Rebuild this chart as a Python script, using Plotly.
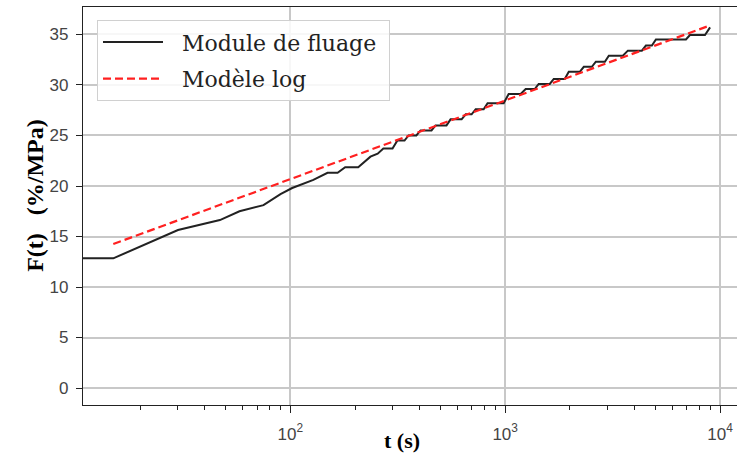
import plotly.graph_objects as go

# === Data ===
# creep compliance curve (stepped), t in s, F in %/MPa
t_fluage = [10, 15, 30, 47, 58, 75, 90, 102, 128, 149, 166, 180, 207, 236, 255, 271,
            299, 315, 340, 355, 386, 404, 454, 474, 533, 557, 627, 655, 698, 729,
            794, 828, 984, 1038, 1180, 1246, 1372, 1432, 1613, 1683, 1894, 1977,
            2225, 2323, 2532, 2642, 2911, 3037, 3530, 3724, 4328, 4519, 4819, 5030,
            6942, 7244, 8511, 8892, 8990]
F_fluage = [12.84, 12.84, 15.64, 16.63, 17.5, 18.1, 19.2, 19.8, 20.6, 21.3, 21.3, 21.85,
            21.85, 22.9, 23.2, 23.7, 23.7, 24.5, 24.5, 25.0, 25.0, 25.5, 25.5, 26.0,
            26.0, 26.6, 26.6, 27.1, 27.1, 27.6, 27.6, 28.2, 28.2, 29.1, 29.1, 29.6,
            29.6, 30.1, 30.1, 30.6, 30.6, 31.3, 31.3, 31.8, 31.8, 32.3, 32.3, 32.9,
            32.9, 33.4, 33.4, 33.9, 33.9, 34.5, 34.5, 34.95, 34.95, 35.6, 35.7]

# logarithmic model
t_model = [15, 1000, 9000]
F_model = [14.26, 28.45, 35.9]

# axes ticks
x_major = [100, 1000, 10000]
x_major_text = ['10<sup>2</sup>', '10<sup>3</sup>', '10<sup>4</sup>']
x_minor = [20, 30, 40, 50, 60, 70, 80, 90,
           200, 300, 400, 500, 600, 700, 800, 900,
           2000, 3000, 4000, 5000, 6000, 7000, 8000, 9000]
y_ticks = [0, 5, 10, 15, 20, 25, 30, 35]

fig = go.Figure()

fig.add_trace(go.Scatter(
    x=t_fluage, y=F_fluage, mode='lines',
    line=dict(color='#222222', width=2),
    name='&nbsp;&nbsp;Module de fluage&nbsp;', legendgroup='a'
))
fig.add_trace(go.Scatter(
    x=t_model, y=F_model, mode='lines',
    line=dict(color='#ff2020', width=2.2, dash='8px,4px'),
    name='&nbsp;&nbsp;Modèle log', legendgroup='b'
))

grid = '#c8c8c8'
tickfont = dict(family='Liberation Sans', size=17, color='#444444')

fig.update_layout(
    width=737, height=455,
    margin=dict(l=83, r=0, t=7, b=50),
    plot_bgcolor='white', paper_bgcolor='white',
    showlegend=True,
    legend=dict(
        x=0.0214, y=0.967, xanchor='left', yanchor='top',
        font=dict(family='DejaVu Serif', size=22, color='#222222'),
        bgcolor='rgba(255,255,255,0.85)', bordercolor='#d0d0d0', borderwidth=1,
        traceorder='grouped', tracegroupgap=5, itemwidth=60
    ),
    xaxis=dict(
        type='log', range=[1.035, 4.079], automargin=False,
        tickvals=x_major, ticktext=x_major_text,
        ticks='outside', ticklen=7, tickcolor='#222', tickwidth=1,
        tickfont=tickfont, ticklabelstandoff=6,
        showgrid=True, gridcolor=grid, gridwidth=1.5,
        showline=True, linecolor='#222', linewidth=1.2, mirror=True,
        minor=dict(tickvals=x_minor, ticks='outside', ticklen=3.5,
                   tickcolor='#222', showgrid=False),
        zeroline=False
    ),
    yaxis=dict(
        range=[-1.68, 37.72], automargin=False,
        tickvals=y_ticks,
        ticks='outside', ticklen=6, tickcolor='#222', tickwidth=1,
        tickfont=tickfont, ticklabelstandoff=4,
        showgrid=True, gridcolor=grid, gridwidth=1.5,
        showline=True, linecolor='#222', linewidth=1.2,
        zeroline=False
    ),
    annotations=[
        dict(text='<b>t (s)</b>', xref='paper', yref='paper',
             x=0.488, y=-0.09, xanchor='center', yanchor='middle', showarrow=False,
             font=dict(family='Liberation Serif', size=22, color='black')),
        dict(text='<b>F(t)&nbsp;&nbsp; (%/MPa)</b>', xref='paper', yref='paper',
             x=-0.0734, y=0.528, xanchor='center', yanchor='middle',
             textangle=-90, showarrow=False,
             font=dict(family='Liberation Serif', size=24, color='black')),
    ]
)

fig.write_html("out.html", config={'displayModeBar': False},
               post_script="document.body.style.margin='0';")
